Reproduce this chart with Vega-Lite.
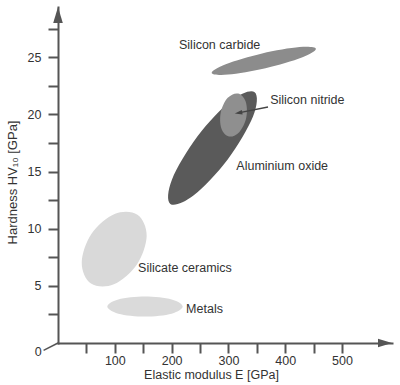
{
  "$schema": "https://vega.github.io/schema/vega-lite/v6.json",
  "width": 334,
  "height": 336,
  "autosize": {"type": "none"},
  "padding": {"left": 58, "top": 7, "right": 8, "bottom": 42},
  "background": "white",
  "config": {"font": "Liberation Sans", "view": {"stroke": null}},
  "resolve": {"axis": {"x": "independent", "y": "independent"}},
  "datasets": {
    "ellipses": [
      {"material": "Silicate ceramics", "pt": 0, "E": 139.8, "H": 11.22},
      {"material": "Silicate ceramics", "pt": 1, "E": 156.1, "H": 9.39},
      {"material": "Silicate ceramics", "pt": 2, "E": 138.9, "H": 6.87},
      {"material": "Silicate ceramics", "pt": 3, "E": 98.3, "H": 5.13},
      {"material": "Silicate ceramics", "pt": 4, "E": 58.1, "H": 5.2},
      {"material": "Silicate ceramics", "pt": 5, "E": 41.8, "H": 7.03},
      {"material": "Silicate ceramics", "pt": 6, "E": 59.0, "H": 9.55},
      {"material": "Silicate ceramics", "pt": 7, "E": 99.6, "H": 11.28},
      {"material": "Metals", "pt": 0, "E": 219.5, "H": 3.19},
      {"material": "Metals", "pt": 1, "E": 200.1, "H": 2.57},
      {"material": "Metals", "pt": 2, "E": 153.2, "H": 2.32},
      {"material": "Metals", "pt": 3, "E": 106.2, "H": 2.57},
      {"material": "Metals", "pt": 4, "E": 86.8, "H": 3.19},
      {"material": "Metals", "pt": 5, "E": 106.2, "H": 3.81},
      {"material": "Metals", "pt": 6, "E": 153.2, "H": 4.07},
      {"material": "Metals", "pt": 7, "E": 200.1, "H": 3.81},
      {"material": "Silicon carbide", "pt": 0, "E": 454.0, "H": 25.75},
      {"material": "Silicon carbide", "pt": 1, "E": 429.3, "H": 24.99},
      {"material": "Silicon carbide", "pt": 2, "E": 365.3, "H": 24.05},
      {"material": "Silicon carbide", "pt": 3, "E": 299.5, "H": 23.49},
      {"material": "Silicon carbide", "pt": 4, "E": 270.6, "H": 23.63},
      {"material": "Silicon carbide", "pt": 5, "E": 295.3, "H": 24.39},
      {"material": "Silicon carbide", "pt": 6, "E": 359.3, "H": 25.33},
      {"material": "Silicon carbide", "pt": 7, "E": 425.1, "H": 25.89},
      {"material": "Aluminium oxide", "pt": 0, "E": 346.2, "H": 21.95},
      {"material": "Aluminium oxide", "pt": 1, "E": 343.3, "H": 19.81},
      {"material": "Aluminium oxide", "pt": 2, "E": 298.7, "H": 16.06},
      {"material": "Aluminium oxide", "pt": 3, "E": 238.4, "H": 12.9},
      {"material": "Aluminium oxide", "pt": 4, "E": 197.8, "H": 12.17},
      {"material": "Aluminium oxide", "pt": 5, "E": 200.7, "H": 14.31},
      {"material": "Aluminium oxide", "pt": 6, "E": 245.3, "H": 18.06},
      {"material": "Aluminium oxide", "pt": 7, "E": 305.5, "H": 21.23},
      {"material": "Silicon nitride", "pt": 0, "E": 317.0, "H": 21.83},
      {"material": "Silicon nitride", "pt": 1, "E": 330.5, "H": 21.11},
      {"material": "Silicon nitride", "pt": 2, "E": 331.4, "H": 19.71},
      {"material": "Silicon nitride", "pt": 3, "E": 319.1, "H": 18.45},
      {"material": "Silicon nitride", "pt": 4, "E": 300.9, "H": 18.07},
      {"material": "Silicon nitride", "pt": 5, "E": 287.5, "H": 18.79},
      {"material": "Silicon nitride", "pt": 6, "E": 286.6, "H": 20.19},
      {"material": "Silicon nitride", "pt": 7, "E": 298.8, "H": 21.45}
    ],
    "labels": [
      {"label": "Silicon carbide", "E": 213, "H": 26.05},
      {"label": "Silicon nitride", "E": 373.5, "H": 21.3},
      {"label": "Aluminium oxide", "E": 314, "H": 15.45},
      {"label": "Silicate ceramics", "E": 141, "H": 6.55},
      {"label": "Metals", "E": 225.5, "H": 2.97}
    ],
    "pointer": [{"E": 369.7, "H": 20.65, "E2": 317.8, "H2": 20.14}],
    "corner": [{"E": 0, "H": 0, "E2": -25.4, "H2": -0.65}],
    "one": [{}]
  },
  "layer": [
    {
      "data": {"name": "ellipses"},
      "transform": [{"filter": "datum.material !== 'Silicon nitride'"}],
      "mark": {"type": "line", "interpolate": "cardinal-closed", "filled": true},
      "encoding": {
        "x": {
          "field": "E", "type": "quantitative",
          "scale": {"domain": [0, 588], "nice": false, "zero": false},
          "axis": {
            "orient": "bottom",
            "values": [50, 100, 150, 200, 250, 300, 350, 400, 450, 500],
            "labels": false,
            "grid": false, "tickSize": 10, "tickWidth": 2, "tickColor": "#555555",
            "domainColor": "#555555", "domainWidth": 2, "domainCap": "square",
            "title": "Elastic modulus E [GPa]", "titleFontSize": 12.5, "titleFontWeight": "normal",
            "titleColor": "#333333", "titleX": 153, "titleY": 31.5, "titleBaseline": "middle", "titleAlign": "center"
          }
        },
        "y": {
          "field": "H", "type": "quantitative",
          "scale": {"domain": [0, 29.4], "nice": false, "zero": false},
          "axis": {
            "orient": "left",
            "values": [2.5, 5, 7.5, 10, 12.5, 15, 17.5, 20, 22.5, 25, 27.5],
            "labels": false,
            "grid": false, "tickSize": 10, "tickWidth": 2, "tickColor": "#555555",
            "domainColor": "#555555", "domainWidth": 2, "domainCap": "square",
            "title": "Hardness HV₁₀ [GPa]", "titleFontSize": 13, "titleFontWeight": "normal",
            "titleFont": "Liberation Sans, DejaVu Sans, sans-serif",
            "titleColor": "#333333", "titleX": -46, "titleY": 175, "titleAngle": 270,
            "titleBaseline": "middle", "titleAlign": "center"
          }
        },
        "color": {
          "field": "material", "type": "nominal",
          "scale": {
            "domain": ["Silicate ceramics", "Metals", "Silicon carbide", "Aluminium oxide", "Silicon nitride"],
            "range": ["#d9d9d9", "#dadada", "#8c8c8c", "#5a5a5a", "#8f8f8f"]
          },
          "legend": null
        },
        "order": {"field": "pt", "type": "quantitative"}
      }
    },
    {
      "data": {"name": "ellipses"},
      "transform": [{"filter": "datum.material === 'Silicon nitride'"}],
      "mark": {"type": "line", "interpolate": "cardinal-closed", "filled": true},
      "encoding": {
        "x": {
          "field": "E", "type": "quantitative",
          "axis": {
            "orient": "bottom", "values": [100, 200, 300, 400, 500], "format": "d",
            "domain": false, "grid": false, "ticks": true, "tickSize": 10, "tickOpacity": 0,
            "labelFontSize": 12.5, "labelColor": "#333333", "labelPadding": 1, "labelOverlap": false,
            "labelFlush": false, "title": null
          }
        },
        "y": {
          "field": "H", "type": "quantitative",
          "axis": {
            "orient": "left", "values": [5, 10, 15, 20, 25], "format": "d",
            "domain": false, "grid": false, "ticks": true, "tickSize": 10, "tickOpacity": 0,
            "labelFontSize": 12.5, "labelColor": "#333333", "labelPadding": 7, "labelOverlap": false,
            "labelFlush": false, "title": null
          }
        },
        "color": {"field": "material", "type": "nominal", "legend": null},
        "order": {"field": "pt", "type": "quantitative"}
      }
    },
    {
      "data": {"name": "pointer"},
      "mark": {"type": "rule", "color": "#444444", "strokeWidth": 1.3},
      "encoding": {
        "x": {"field": "E", "type": "quantitative", "axis": null},
        "y": {"field": "H", "type": "quantitative", "axis": null},
        "x2": {"field": "E2"},
        "y2": {"field": "H2"}
      }
    },
    {
      "data": {"name": "pointer"},
      "mark": {"type": "point", "shape": "M-1,0L1,-0.6L1,0.6Z", "filled": true, "color": "#444444", "opacity": 1, "size": 56, "angle": 350},
      "encoding": {
        "x": {"field": "E2", "type": "quantitative", "axis": null},
        "y": {"field": "H2", "type": "quantitative", "axis": null}
      }
    },
    {
      "data": {"name": "labels"},
      "mark": {"type": "text", "align": "left", "baseline": "middle", "fontSize": 12.5, "color": "#333333"},
      "encoding": {
        "x": {"field": "E", "type": "quantitative", "axis": null},
        "y": {"field": "H", "type": "quantitative", "axis": null},
        "text": {"field": "label"}
      }
    },
    {
      "data": {"name": "one"},
      "mark": {"type": "point", "shape": "M1,0L-1,-0.6L-1,0.6Z", "filled": true, "color": "#555555", "opacity": 1, "size": 196},
      "encoding": {
        "x": {"datum": 575.7, "type": "quantitative", "axis": null},
        "y": {"datum": 0, "type": "quantitative", "axis": null}
      }
    },
    {
      "data": {"name": "one"},
      "mark": {"type": "point", "shape": "M0,-1L0.6,1L-0.6,1Z", "filled": true, "color": "#555555", "opacity": 1, "size": 256},
      "encoding": {
        "x": {"datum": 0, "type": "quantitative", "axis": null},
        "y": {"datum": 28.7, "type": "quantitative", "axis": null}
      }
    },
    {
      "data": {"name": "corner"},
      "mark": {"type": "rule", "color": "#555555", "strokeWidth": 1.5},
      "encoding": {
        "x": {"field": "E", "type": "quantitative", "axis": null},
        "y": {"field": "H", "type": "quantitative", "axis": null},
        "x2": {"field": "E2"},
        "y2": {"field": "H2"}
      }
    },
    {
      "data": {"name": "one"},
      "mark": {"type": "text", "align": "center", "baseline": "middle", "fontSize": 12.5, "color": "#333333", "text": "0"},
      "encoding": {
        "x": {"datum": -34.7, "type": "quantitative", "axis": null},
        "y": {"datum": -0.8, "type": "quantitative", "axis": null}
      }
    }
  ]
}
